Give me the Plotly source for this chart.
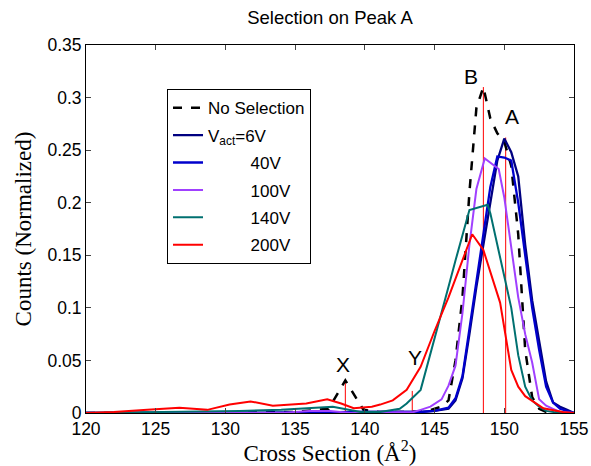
import plotly.graph_objects as go

# ---- data ----
no_sel_x = [120, 130, 135, 137.4, 138.6, 139.9, 141, 143, 144.5, 145.5, 146, 146.5, 147, 147.5, 148, 148.5, 149, 149.5, 150, 150.5, 151, 151.5, 152, 152.5, 153, 155]
no_sel_y = [0, 0, 0.001, 0.004, 0.031, 0.003, 0.001, 0.001, 0.002, 0.006, 0.012, 0.05, 0.11, 0.21, 0.29, 0.31, 0.28, 0.266, 0.258, 0.235, 0.17, 0.06, 0.015, 0.004, 0.001, 0]

v6_x = [120, 130, 140, 144, 145, 146, 146.5, 147, 147.5, 148, 148.5, 149, 149.5, 150, 150.5, 151, 151.5, 152, 152.5, 153, 153.5, 154, 154.5, 155]
v6_y = [0, 0, 0.001, 0.001, 0.002, 0.004, 0.012, 0.033, 0.075, 0.12, 0.16, 0.2, 0.24, 0.261, 0.248, 0.225, 0.16, 0.107, 0.07, 0.03, 0.01, 0.006, 0.003, 0]

v40_x = [120, 130, 140, 144, 145, 146, 146.5, 147, 147.5, 148, 148.5, 149, 149.5, 150, 150.5, 151, 151.5, 152, 152.5, 153, 153.5, 154, 155]
v40_y = [0, 0, 0.001, 0.001, 0.002, 0.005, 0.014, 0.035, 0.08, 0.125, 0.17, 0.215, 0.244, 0.243, 0.24, 0.2, 0.15, 0.1, 0.06, 0.025, 0.01, 0.004, 0]

v100_x = [120, 134, 136, 137.5, 139, 143.5, 144, 144.7, 145.5, 146, 146.5, 147, 147.5, 148, 148.6, 149, 149.6, 150, 150.5, 151, 151.5, 152, 152.5, 153, 153.5, 154, 155]
v100_y = [0, 0, 0.002, 0.002, 0, 0.001, 0.003, 0.006, 0.013, 0.026, 0.045, 0.095, 0.16, 0.213, 0.242, 0.238, 0.232, 0.205, 0.158, 0.11, 0.075, 0.048, 0.013, 0.007, 0.004, 0.001, 0]

v140_x = [120, 125, 128, 131, 134, 136.3, 137.7, 139.7, 141.1, 142.5, 143, 144, 145, 145.5, 146, 146.5, 147, 147.5, 148.8, 149, 149.5, 150, 150.5, 151, 151.5, 152, 152.5, 153, 154, 155]
v140_y = [0, 0.001, 0.001, 0.002, 0.003, 0.0045, 0.006, 0.001, 0.001, 0.004, 0.009, 0.022, 0.07, 0.095, 0.12, 0.145, 0.17, 0.193, 0.198, 0.19, 0.16, 0.13, 0.1, 0.055, 0.025, 0.012, 0.006, 0.002, 0, 0]

v200_x = [120, 122, 124.4, 126.7, 128.7, 130.3, 131.8, 133.4, 135.8, 137.3, 138.3, 139.2, 140.5, 141.1, 142, 143, 144, 145, 146, 147, 147.7, 148.5, 149, 149.7, 150.5, 151, 151.5, 152.8, 154.2, 155]
v200_y = [0, 0.001, 0.003, 0.005, 0.003, 0.008, 0.011, 0.007, 0.009, 0.013, 0.009, 0.0045, 0.006, 0.008, 0.012, 0.022, 0.044, 0.078, 0.11, 0.145, 0.170, 0.155, 0.135, 0.105, 0.041, 0.025, 0.016, 0.0045, 0.001, 0]

# peak markers (position, height, label, label position)
marker_x = [138.6, 143.4, 148.5, 150.1]
marker_h = [0.031, 0.021, 0.310, 0.262]
peak_labels = ["X", "Y", "B", "A"]
label_x = [138.45, 143.6, 147.62, 150.55]
label_y = [0.046, 0.053, 0.320, 0.282]

nb = "\u00a0" * 9
series = [
    ("No Selection", no_sel_x, no_sel_y, "black", 2.5, "dash"),
    ("V<sub>act</sub>=6V", v6_x, v6_y, "#000080", 2.3, "solid"),
    (nb + "40V", v40_x, v40_y, "#0000CC", 2.3, "solid"),
    (nb + "100V", v100_x, v100_y, "#A040FF", 2, "solid"),
    (nb + "140V", v140_x, v140_y, "#007070", 2, "solid"),
    (nb + "200V", v200_x, v200_y, "#FF0000", 2, "solid"),
]

fig = go.Figure()

for mx, mh in zip(marker_x, marker_h):
    fig.add_trace(go.Scatter(x=[mx, mx], y=[0, mh], mode="lines",
                             line=dict(color="#FF0000", width=1), showlegend=False,
                             hoverinfo="skip"))

for i, (name, xs, ys, col, w, dash) in enumerate(series):
    fig.add_trace(go.Scatter(x=xs, y=ys, mode="lines", name=name,
                             legendgroup=str(i),
                             line=dict(color=col, width=w, dash=dash)))

for t, lx, ly in zip(peak_labels, label_x, label_y):
    fig.add_annotation(x=lx, y=ly, text=t, showarrow=False,
                       font=dict(family="Liberation Sans, Arial", size=21, color="black"))

axis_common = dict(showline=True, linecolor="black", linewidth=1, mirror="ticks",
                   ticks="inside", ticklen=5, tickcolor="#444", showgrid=False,
                   zeroline=False, automargin=False,
                   tickfont=dict(family="Liberation Sans, Arial", size=17.5, color="black"))

fig.update_layout(
    width=591, height=466,
    margin=dict(l=86, r=17, t=45, b=53),
    paper_bgcolor="white", plot_bgcolor="white",
    title=dict(text="Selection on Peak A", x=0.5, xref="paper", y=0.963, yanchor="middle",
               font=dict(family="Liberation Sans, Arial", size=18.5, color="black")),
    xaxis=dict(range=[120, 155], tickvals=[120, 125, 130, 135, 140, 145, 150, 155],
               title=dict(text="Cross Section (Å<sup>2</sup>)", standoff=3,
                          font=dict(family="Liberation Serif, Times New Roman", size=23, color="black")),
               **axis_common),
    yaxis=dict(range=[0, 0.35], tickvals=[0, 0.05, 0.1, 0.15, 0.2, 0.25, 0.3, 0.35],
               ticktext=["0", "0.05", "0.1", "0.15", "0.2", "0.25", "0.3", "0.35"],
               title=dict(text="Counts (Normalized)", standoff=9,
                          font=dict(family="Liberation Serif, Times New Roman", size=23, color="black")),
               **axis_common),
    legend=dict(x=0.166, y=0.88, xanchor="left", yanchor="top",
                bgcolor="white", bordercolor="black", borderwidth=1,
                traceorder="grouped", tracegroupgap=2.3,
                font=dict(family="Liberation Sans, Arial", size=17, color="black")),
    showlegend=True,
)

fig.write_html("out.html", config={"displayModeBar": False},
               post_script="document.body.style.margin='0px';")
